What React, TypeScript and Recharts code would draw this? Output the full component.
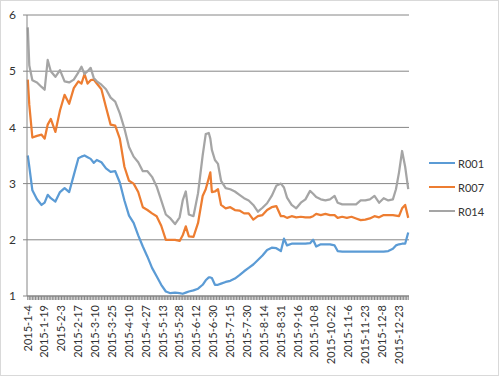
import { LineChart, Line, XAxis, YAxis, CartesianGrid, Legend } from 'recharts';

// trading-day index (0 = 2015-1-4) of each sampled point
const days = [
  0, 1, 3, 6, 9, 11, 13, 15, 18, 21, 24, 27, 30, 33, 35, 37, 39, 41, 43, 45,
  48, 51, 54, 57, 60, 63, 66, 69, 72, 75, 78, 81, 84, 87, 90, 93, 96, 99, 101, 103,
  105, 108, 111, 114, 116, 118, 119, 120, 122, 124, 126, 129, 132, 135, 138, 141, 144, 147, 150, 153,
  156, 159, 162, 165, 167, 169, 172, 175, 178, 181, 184, 186, 188, 191, 194, 197, 200, 202, 205, 208,
  211, 214, 217, 220, 223, 226, 229, 232, 235, 238, 240, 242, 244, 246, 248,
];

const r001 = [
  3.5, 3.3, 2.88, 2.72, 2.62, 2.66, 2.8, 2.74, 2.68, 2.85, 2.92, 2.85, 3.15, 3.45, 3.48, 3.5, 3.47, 3.44, 3.37, 3.42,
  3.38, 3.27, 3.21, 3.22, 3.02, 2.7, 2.43, 2.3, 2.08, 1.88, 1.7, 1.5, 1.35, 1.2, 1.08, 1.05, 1.06, 1.05, 1.04, 1.06,
  1.08, 1.1, 1.13, 1.2, 1.28, 1.33, 1.33, 1.32, 1.2, 1.2, 1.22, 1.25, 1.27, 1.31, 1.37, 1.44, 1.5, 1.56, 1.64, 1.72,
  1.82, 1.86, 1.85, 1.8, 2.02, 1.9, 1.93, 1.93, 1.93, 1.93, 1.94, 2.0, 1.88, 1.92, 1.92, 1.92, 1.9, 1.8, 1.79, 1.79,
  1.79, 1.79, 1.79, 1.79, 1.79, 1.79, 1.79, 1.79, 1.8, 1.84, 1.9, 1.92, 1.93, 1.93, 2.13,
];

const r007 = [
  4.85, 4.4, 3.82, 3.85, 3.87, 3.8, 4.05, 4.15, 3.92, 4.3, 4.58, 4.42, 4.7, 4.82, 4.78, 4.95, 4.78, 4.84, 4.85, 4.78,
  4.68, 4.36, 4.05, 4.03, 3.8, 3.3, 3.05, 3.0, 2.85, 2.58, 2.53, 2.47, 2.42, 2.25, 2.0, 2.0, 2.0, 1.98, 2.08, 2.24,
  2.06, 2.05, 2.3, 2.78, 2.9, 3.1, 3.2, 2.85, 2.86, 2.9, 2.62, 2.56, 2.58, 2.53, 2.52, 2.47, 2.47, 2.36, 2.42, 2.44,
  2.53, 2.58, 2.6, 2.42, 2.42, 2.39, 2.42, 2.4, 2.41, 2.4, 2.4, 2.42, 2.46, 2.44, 2.46, 2.44, 2.44, 2.39, 2.41, 2.39,
  2.41, 2.38, 2.35, 2.36, 2.38, 2.42, 2.4, 2.44, 2.44, 2.44, 2.43, 2.42, 2.56, 2.62, 2.39,
];

const r014 = [
  5.78, 5.1, 4.84, 4.8, 4.72, 4.67, 5.2, 5.0, 4.9, 5.02, 4.82, 4.8, 4.85, 4.98, 5.08, 4.95, 5.0, 5.06, 4.88, 4.82,
  4.76, 4.68, 4.53, 4.46, 4.25, 3.98, 3.65, 3.48, 3.38, 3.22, 3.22, 3.12, 2.95, 2.7, 2.45, 2.38, 2.28, 2.4, 2.7, 2.86,
  2.45, 2.42, 2.83, 3.5, 3.88, 3.9, 3.8, 3.6, 3.42, 3.35, 3.05, 2.92, 2.9, 2.86, 2.8, 2.74, 2.7, 2.62, 2.5, 2.57,
  2.65, 2.78, 2.96, 3.0, 2.93, 2.75, 2.62, 2.56, 2.66, 2.72, 2.87, 2.82, 2.76, 2.72, 2.7, 2.72, 2.78, 2.66, 2.63, 2.63,
  2.63, 2.63, 2.7, 2.7, 2.72, 2.78, 2.66, 2.74, 2.7, 2.72, 2.9, 3.2, 3.58, 3.3, 2.9,
];

// one label every 11 trading days
const tickLabels = [
  '2015-1-4', '2015-1-19', '2015-2-3', '2015-2-17', '2015-3-10', '2015-3-25',
  '2015-4-10', '2015-4-27', '2015-5-13', '2015-5-28', '2015-6-12', '2015-6-30',
  '2015-7-15', '2015-7-30', '2015-8-14', '2015-8-31', '2015-9-16', '2015-10-8',
  '2015-10-22', '2015-11-6', '2015-11-23', '2015-12-8', '2015-12-23',
];
const LABEL_STEP = 11;
const DAY_COUNT = 249;

const yTicks = [1, 2, 3, 4, 5, 6];

const series = [
  { key: 'R001', color: '#5b9bd5' },
  { key: 'R007', color: '#ed7d31' },
  { key: 'R014', color: '#a5a5a5' },
];

const data = days.map((day, i) => ({ day, R001: r001[i], R007: r007[i], R014: r014[i] }));
const dayTicks = Array.from({ length: DAY_COUNT }, (_, i) => i);

const FONT = 'Lato, "Liberation Sans", sans-serif';
const AXIS = '#868686';

function DateTick(props: any) {
  const { x, y, payload } = props;
  const day = payload.value;
  if (day % LABEL_STEP !== 0) return <g />;
  const label = tickLabels[day / LABEL_STEP];
  if (!label) return <g />;
  return (
    <text
      x={x}
      y={y}
      dy="0.35em"
      transform={`rotate(-90, ${x}, ${y})`}
      textAnchor="end"
      fontSize={11}
      fontFamily={FONT}
      fill="#333"
    >
      {label}
    </text>
  );
}

function LegendBox() {
  return (
    <div style={{ fontFamily: FONT, fontSize: 11, color: '#333' }}>
      {series.map((s) => (
        <div key={s.key} style={{ display: 'flex', alignItems: 'center', height: 24 }}>
          <svg width={26} height={4}>
            <line x1={0} y1={2} x2={26} y2={2} stroke={s.color} strokeWidth={2} />
          </svg>
          <span style={{ marginLeft: 3 }}>{s.key}</span>
        </div>
      ))}
    </div>
  );
}

export default function App() {
  return (
    <div style={{ position: 'absolute', left: 0, top: 0, width: 499, height: 376, background: '#fff' }}>
      <LineChart width={499} height={376} data={data} margin={{ top: 15, right: 90, bottom: 0, left: 0 }}>
        <CartesianGrid vertical={false} stroke={AXIS} />
        <XAxis
          type="number"
          dataKey="day"
          domain={[-0.5, DAY_COUNT - 0.5]}
          ticks={dayTicks}
          interval={0}
          height={80}
          tickSize={4}
          tickMargin={5}
          axisLine={{ stroke: AXIS }}
          tickLine={{ stroke: AXIS }}
          tick={(p: any) => <DateTick {...p} />}
        />
        <YAxis
          type="number"
          domain={[1, 6]}
          ticks={yTicks}
          width={27}
          tickSize={4}
          tickMargin={7}
          axisLine={{ stroke: AXIS }}
          tickLine={{ stroke: AXIS }}
          tick={{ fontSize: 12, fontFamily: FONT, fill: '#333' }}
        />
        <Legend
          layout="horizontal"
          align="center"
          verticalAlign="middle"
          content={() => <LegendBox />}
          wrapperStyle={{ left: 429, top: 151, width: 70 }}
        />
        {series.map((s) => (
          <Line
            key={s.key}
            type="linear"
            dataKey={s.key}
            stroke={s.color}
            strokeWidth={2.25}
            strokeLinejoin="round"
            dot={false}
            isAnimationActive={false}
          />
        ))}
      </LineChart>
      <div
        style={{
          position: 'absolute',
          inset: 0,
          border: '1px solid #d9d9d9',
          pointerEvents: 'none',
        }}
      />
    </div>
  );
}
